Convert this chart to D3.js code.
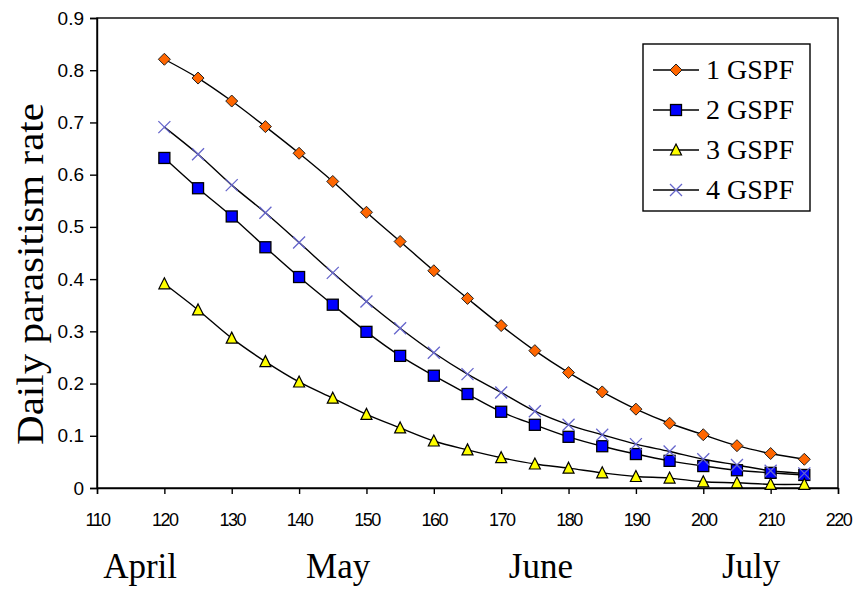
<!DOCTYPE html>
<html><head><meta charset="utf-8">
<script src="https://cdn.jsdelivr.net/npm/d3@7/dist/d3.min.js"></script>
<style>body{margin:0;background:#fff;} svg{display:block;}</style>
</head><body>
<svg id="c" width="858" height="593"></svg>
<script>
const days = [120,125,130,135,140,145,150,155,160,165,170,175,180,185,190,195,200,205,210,215];
const gspf1 = [0.821,0.785,0.741,0.692,0.641,0.587,0.528,0.472,0.416,0.363,0.311,0.263,0.221,0.184,0.151,0.124,0.102,0.081,0.066,0.055];
const gspf2 = [0.632,0.574,0.520,0.461,0.404,0.351,0.299,0.253,0.215,0.180,0.146,0.121,0.098,0.080,0.065,0.052,0.042,0.034,0.029,0.025];
const gspf3 = [0.391,0.341,0.287,0.242,0.203,0.172,0.141,0.115,0.090,0.073,0.058,0.046,0.038,0.029,0.022,0.019,0.012,0.010,0.007,0.007];
const gspf4 = [0.691,0.639,0.580,0.527,0.470,0.412,0.357,0.306,0.259,0.218,0.183,0.147,0.121,0.102,0.084,0.070,0.055,0.044,0.033,0.028];
const seriesNames = ["1 GSPF","2 GSPF","3 GSPF","4 GSPF"];
const xTicks = [110,120,130,140,150,160,170,180,190,200,210,220];
const yTicks = [0,0.1,0.2,0.3,0.4,0.5,0.6,0.7,0.8,0.9];
const months = ["April","May","June","July"];
const monthPos = [116.4,145.8,175.9,207.1]; // label centres in day units

const svg = d3.select("#c");
const L=97, R=838, T=18, B=488;
const x = d3.scaleLinear().domain([110,220]).range([L,R]);
const y = d3.scaleLinear().domain([0,0.9]).range([B,T]);

// frame
svg.append("rect").attr("x",L).attr("y",T).attr("width",R-L).attr("height",B-T)
  .attr("fill","none").attr("stroke","#000").attr("stroke-width",1.4);

const xa = svg.append("g").attr("transform",`translate(0,${B})`)
  .call(d3.axisBottom(x).tickValues(xTicks).tickSize(6).tickPadding(19).tickFormat(d3.format("d")));
xa.select(".domain").attr("stroke-width",1.4);
xa.selectAll("line").attr("stroke-width",1.4);
xa.selectAll("text").attr("font-family","'Liberation Sans',Arial,sans-serif").attr("font-size",18).attr("letter-spacing","-1.5px").attr("fill","#000");

const ya = svg.append("g").attr("transform",`translate(${L},0)`)
  .call(d3.axisLeft(y).tickValues(yTicks).tickSize(7).tickPadding(6).tickFormat(d=> d===0?"0":d3.format(".1f")(d)));
ya.select(".domain").attr("stroke-width",1.4);
ya.selectAll("line").attr("stroke-width",1.4);
ya.selectAll("text").attr("font-family","'Liberation Sans',Arial,sans-serif").attr("font-size",19).attr("fill","#000");

// y title
svg.append("text").attr("transform","translate(43,274) rotate(-90)")
  .attr("text-anchor","middle").attr("font-family","'Liberation Serif','Times New Roman',serif")
  .attr("font-size",38).attr("textLength",342).attr("lengthAdjust","spacingAndGlyphs")
  .text("Daily parasitism rate");

// months
svg.selectAll(".month").data(months).join("text")
  .attr("x",(d,i)=>x(monthPos[i]))
  .attr("y",578).attr("text-anchor","middle")
  .attr("font-family","'Liberation Serif','Times New Roman',serif").attr("font-size",35)
  .text(d=>d);

const data = [gspf1,gspf2,gspf3,gspf4];
const line = d3.line().x((d,i)=>x(days[i])).y(d=>y(d)).curve(d3.curveCatmullRom);

data.forEach(s=>{
  svg.append("path").attr("d",line(s)).attr("fill","none").attr("stroke","#000").attr("stroke-width",1.4);
});

function marker(g, k, cx, cy){
  if(k===0){
    g.append("path").attr("d",`M${cx},${cy-6}L${cx+6},${cy}L${cx},${cy+6}L${cx-6},${cy}Z`)
      .attr("fill","#ff6600").attr("stroke","#222").attr("stroke-width",1);
  } else if(k===1){
    g.append("rect").attr("x",cx-5.5).attr("y",cy-5.5).attr("width",11).attr("height",11)
      .attr("fill","#0000ff").attr("stroke","#000").attr("stroke-width",1.3);
  } else if(k===2){
    g.append("path").attr("d",`M${cx},${cy-6}L${cx+5.5},${cy+5}L${cx-5.5},${cy+5}Z`)
      .attr("fill","#ffff00").attr("stroke","#000").attr("stroke-width",1.2);
  } else {
    g.append("path").attr("d",`M${cx-6},${cy-6}L${cx+6},${cy+6}M${cx+6},${cy-6}L${cx-6},${cy+6}`)
      .attr("stroke","#6666cc").attr("stroke-width",1.3).attr("fill","none");
  }
}

data.forEach((s,k)=>{
  const g = svg.append("g");
  s.forEach((v,i)=>marker(g,k,x(days[i]),y(v)));
});

// legend
const lg = svg.append("g");
lg.append("rect").attr("x",643).attr("y",44).attr("width",167).attr("height",167)
  .attr("fill","#fff").attr("stroke","#000").attr("stroke-width",1.4);
seriesNames.forEach((n,k)=>{
  const cy = 70 + k*40;
  lg.append("line").attr("x1",653).attr("x2",699).attr("y1",cy).attr("y2",cy).attr("stroke","#000").attr("stroke-width",1.4);
  marker(lg,k,676,cy);
  lg.append("text").attr("x",706).attr("y",cy+9).attr("font-family","'Liberation Serif','Times New Roman',serif")
    .attr("font-size",27).attr("textLength",88).attr("lengthAdjust","spacingAndGlyphs").text(n);
});
</script>
</body></html>
